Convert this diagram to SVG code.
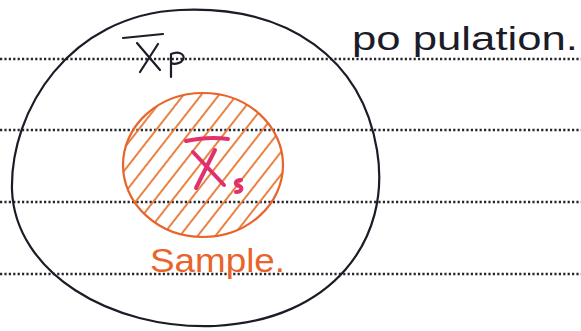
<svg xmlns="http://www.w3.org/2000/svg" width="581" height="331" viewBox="0 0 581 331">
<defs>
<style>
.rule{stroke:#26262e;stroke-width:2.6;stroke-dasharray:2.2 2.2;fill:none}
.ink{fill:none;stroke:#1c1c28;stroke-width:2.2;stroke-linecap:round;stroke-linejoin:round}
.org{fill:none;stroke:#e8642a;stroke-width:2.2;stroke-linecap:round}
.pink{fill:none;stroke:#e0306e;stroke-width:4;stroke-linecap:round;stroke-linejoin:round}
.hand{font-family:"Liberation Sans","DejaVu Sans",sans-serif}
</style>
<clipPath id="sc"><ellipse cx="203" cy="165" rx="80" ry="72"/></clipPath>
<pattern id="hatch" patternUnits="userSpaceOnUse" width="14" height="14" patternTransform="rotate(38)">
<line x1="7" y1="0" x2="7" y2="14" stroke="#e8742e" stroke-width="1.8"/>
</pattern>
</defs>
<rect width="581" height="331" fill="#ffffff"/>
<g id="rules">
<line class="rule" x1="0" y1="59" x2="581" y2="59"/>
<line class="rule" x1="0" y1="130" x2="581" y2="130"/>
<line class="rule" x1="0" y1="202" x2="581" y2="202"/>
<line class="rule" x1="0" y1="274" x2="581" y2="274"/>
</g>
<g id="population">
<path class="ink" d="M180 10 C290 5 362 60 377 150 C392 240 332 320 215 326 C110 330 15 272 12 190 C10 110 70 15 180 10 Z"/>
<path class="ink" stroke-width="3.4" d="M123 38 L163 34"/>
<path class="ink" stroke-width="3.2" d="M137 43 L160 70 M158 44 L140 72"/>
<path class="ink" stroke-width="2.8" d="M171 77 L171 54 C180 50 188 56 181 62 C177 64 173 64 171 63"/>
<text class="hand" x="352" y="50" font-size="33" fill="#1c1c28" textLength="226" lengthAdjust="spacingAndGlyphs">po pulation.</text>
</g>
<g id="sample">
<rect x="120" y="90" width="170" height="150" fill="url(#hatch)" clip-path="url(#sc)"/>
<ellipse class="org" cx="203" cy="165" rx="80" ry="72"/>
<path class="pink" stroke-width="2.5" d="M186 141 C200 138 215 137 228 139"/>
<path class="pink" d="M193 152 L224 185 M215 150 L196 188"/>
<path class="pink" stroke-width="3" d="M241 180 C235 180 234 185 239 186 C243 187 242 192 236 192"/>
<text class="hand" x="150" y="272" font-size="33" fill="#e8642a" textLength="135" lengthAdjust="spacingAndGlyphs">Sample.</text>
</g>
</svg>
